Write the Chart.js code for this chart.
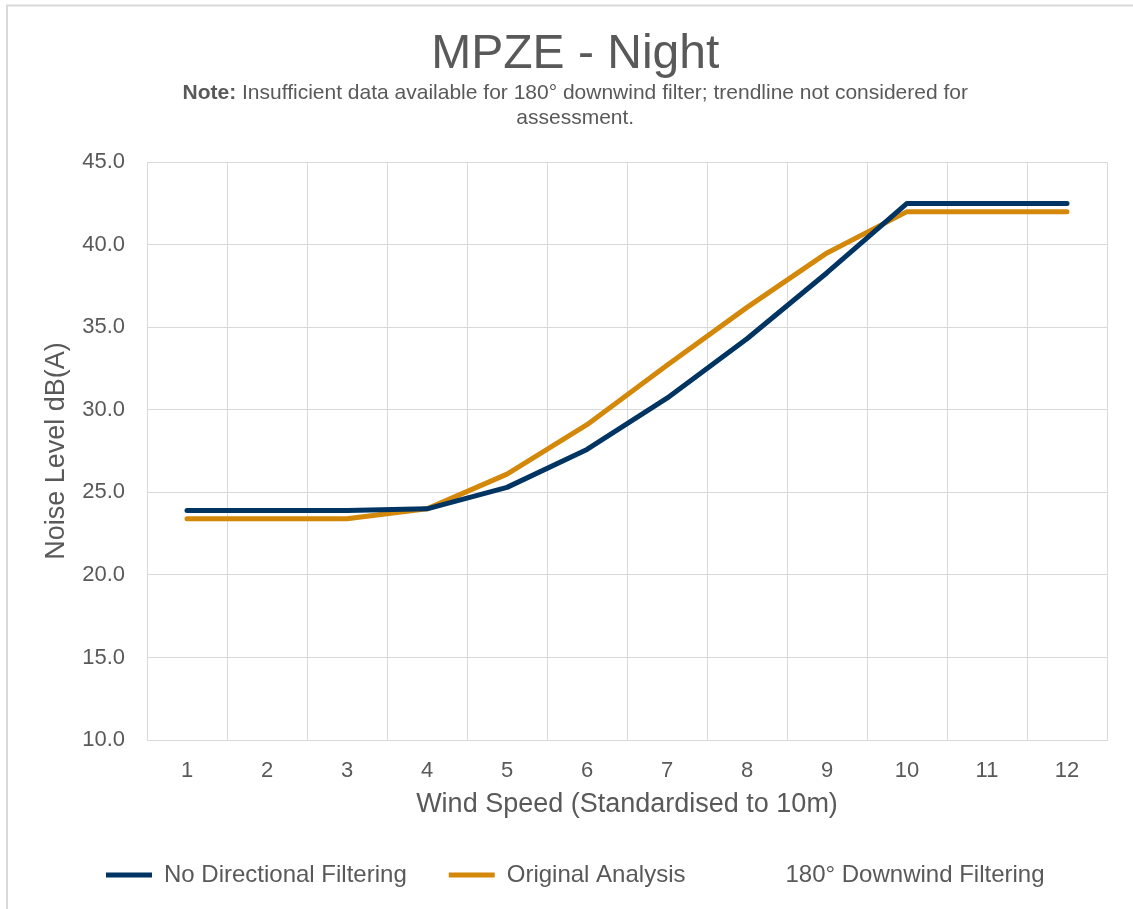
<!DOCTYPE html>
<html>
<head>
<meta charset="utf-8">
<script src="https://cdn.jsdelivr.net/npm/chart.js@4.4.0/dist/chart.umd.min.js"></script>
<style>
  html, body { margin: 0; padding: 0; background: #ffffff; }
  #wrap { width: 1133px; height: 909px; position: relative; }
</style>
</head>
<body>
<div id="wrap"><canvas id="c" width="1133" height="909"></canvas></div>
<script>
const windSpeeds = ['1', '2', '3', '4', '5', '6', '7', '8', '9', '10', '11', '12'];
const noDirectionalFiltering = [23.9, 23.9, 23.9, 24.0, 25.3, 27.6, 30.7, 34.3, 38.3, 42.5, 42.5, 42.5];
const originalAnalysis = [23.4, 23.4, 23.4, 24.0, 26.1, 29.1, 32.7, 36.2, 39.5, 42.0, 42.0, 42.0];
const downwindFiltering = [null, null, null, null, null, null, null, null, null, null, null, null];
const seriesNames = ['No Directional Filtering', 'Original Analysis', '180° Downwind Filtering'];
const titleText = 'MPZE - Night';
const noteBold = 'Note:';
const noteLine1 = ' Insufficient data available for 180° downwind filter; trendline not considered for';
const noteLine2 = 'assessment.';

const FONT = "'Liberation Sans', Arial, sans-serif";
const TEXT = '#595959';
const GRID = '#D9D9D9';
const BLUE = '#003462';
const ORANGE = '#D4880A';

const notePlugin = {
  id: 'note',
  beforeDraw(chart) {
    const ctx = chart.ctx;
    ctx.save();
    ctx.strokeStyle = GRID;
    ctx.lineWidth = 2;
    ctx.beginPath();
    ctx.moveTo(7, 909);
    ctx.lineTo(7, 5.5);
    ctx.lineTo(1133, 5.5);
    ctx.stroke();
    ctx.restore();
  },
  afterDraw(chart) {
    const ctx = chart.ctx;
    const t = chart.titleBlock;
    const cx = (t.left + t.right) / 2;
    ctx.save();
    ctx.fillStyle = TEXT;
    ctx.textBaseline = 'middle';
    ctx.font = 'bold 21px ' + FONT;
    const wb = ctx.measureText(noteBold).width;
    ctx.font = '21px ' + FONT;
    const wn = ctx.measureText(noteLine1).width;
    let x = cx - (wb + wn) / 2;
    const y1 = 93, y2 = 118;
    ctx.textAlign = 'left';
    ctx.font = 'bold 21px ' + FONT;
    ctx.fillText(noteBold, x, y1);
    ctx.font = '21px ' + FONT;
    ctx.fillText(noteLine1, x + wb, y1);
    ctx.textAlign = 'center';
    ctx.fillText(noteLine2, cx, y2);
    ctx.restore();
  }
};

new Chart(document.getElementById('c'), {
  type: 'line',
  data: {
    labels: windSpeeds,
    datasets: [
      { label: seriesNames[0], data: noDirectionalFiltering, borderColor: BLUE, backgroundColor: BLUE },
      { label: seriesNames[1], data: originalAnalysis, borderColor: ORANGE, backgroundColor: ORANGE },
      { label: seriesNames[2], data: downwindFiltering, borderColor: 'rgba(0,0,0,0)', backgroundColor: 'rgba(0,0,0,0)' }
    ]
  },
  options: {
    responsive: false,
    animation: false,
    devicePixelRatio: 1,
    layout: { padding: { left: 43.5, right: 26, top: 26, bottom: 12 } },
    elements: {
      line: { borderWidth: 5, tension: 0, borderCapStyle: 'round', borderJoinStyle: 'round', fill: false },
      point: { radius: 0, hoverRadius: 0 }
    },
    plugins: {
      title: {
        display: true,
        text: titleText,
        color: TEXT,
        font: { family: FONT, size: 48, weight: 'normal' },
        padding: { top: 0, bottom: 78.5 }
      },
      legend: {
        position: 'bottom',
        labels: {
          color: TEXT,
          font: { family: FONT, size: 24 },
          boxWidth: 46,
          boxHeight: 5,
          padding: 42,
          generateLabels(chart) {
            return chart.data.datasets.map((ds, i) => ({
              text: ds.label,
              fillStyle: ds.borderColor,
              strokeStyle: ds.borderColor,
              lineWidth: 0,
              fontColor: TEXT,
              hidden: false,
              datasetIndex: i
            }));
          }
        }
      },
      tooltip: { enabled: false }
    },
    scales: {
      x: {
        offset: true,
        grid: { color: GRID, lineWidth: 1, offset: true, drawTicks: false },
        border: { color: GRID, width: 1 },
        ticks: { color: TEXT, font: { family: FONT, size: 22 }, padding: 18 },
        title: { display: true, text: 'Wind Speed (Standardised to 10m)', color: TEXT, font: { family: FONT, size: 27, lineHeight: 1 }, padding: { top: 0, bottom: 2.5 } },
        afterFit(scale) { scale.height = 81; }
      },
      y: {
        min: 10,
        max: 45,
        grid: { color: GRID, lineWidth: 1, drawTicks: false },
        border: { color: GRID, width: 1 },
        ticks: { stepSize: 5, color: TEXT, font: { family: FONT, size: 22 }, padding: 22, callback: v => Number(v).toFixed(1) },
        title: { display: true, text: 'Noise Level dB(A)', color: TEXT, font: { family: FONT, size: 27, lineHeight: 1 }, padding: { top: 0, bottom: 0 } },
        afterFit(scale) { scale.width = 103.5; }
      }
    }
  },
  plugins: [notePlugin]
});
</script>
</body>
</html>
